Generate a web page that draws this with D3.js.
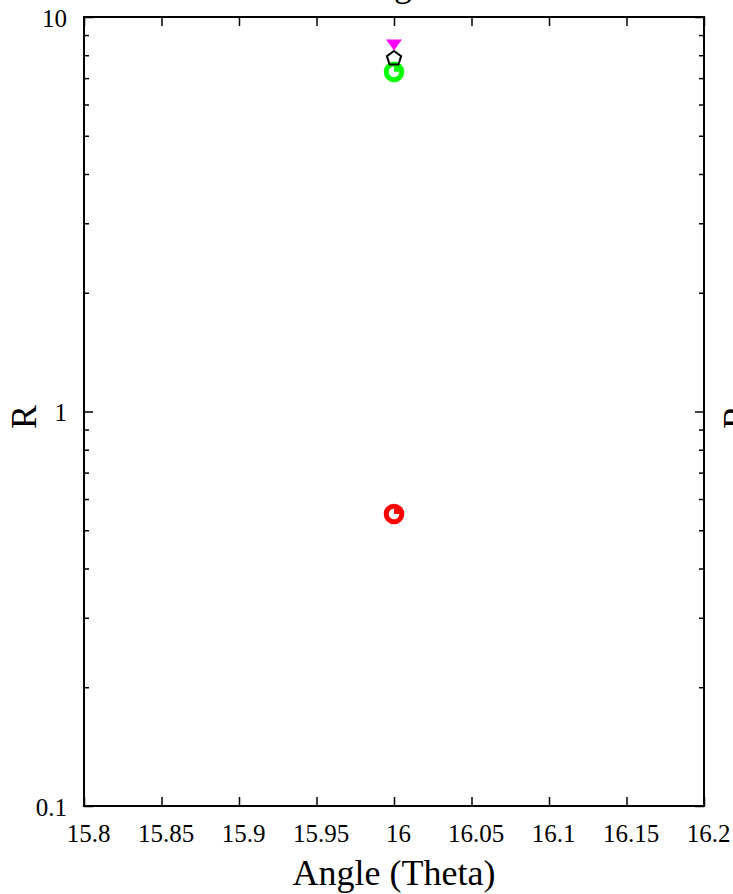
<!DOCTYPE html>
<html>
<head>
<meta charset="utf-8">
<script src="https://cdn.jsdelivr.net/npm/d3@7"></script>
<style>
    body { margin: 0; background: #fff; }
    svg { display: block; font-family: "Liberation Serif", "DejaVu Serif", serif; }
    .axis path { display: none; }
    .axis line { stroke: #000; stroke-width: 1.5; }
    .axis text { font-family: "Liberation Serif", serif; font-size: 25px; fill: #000; }
</style>
</head>
<body>
<div id="chart"></div>
<script>
// x range and ticks
const xDomain = [15.8, 16.2];
const xTicks = [15.8, 15.85, 15.9, 15.95, 16, 16.05, 16.1, 16.15, 16.2];
const yDomain = [0.1, 10];
const yTicks = [0.1, 1, 10];
const yMinorTicks = [0.2, 0.3, 0.4, 0.5, 0.6, 0.7, 0.8, 0.9, 2, 3, 4, 5, 6, 7, 8, 9];

// one point per series, all at theta = 16
const seriesNames = ["red", "green", "black", "magenta"];
const seriesTheta = [16, 16, 16, 16];
const seriesR = [0.55, 7.26, 7.85, 8.49];
const seriesColors = ["#ff0000", "#00ff00", "#000000", "#ff00ff"];
const seriesShapes = ["ring", "ring", "pentagon", "triangleDown"];

const width = 733, height = 894;
const margin = { left: 84, right: 29, top: 17, bottom: 88 };
const plotW = width - margin.left - margin.right;
const plotH = height - margin.top - margin.bottom;

const svg = d3.select("#chart").append("svg")
    .attr("width", width)
    .attr("height", height);

const x = d3.scaleLinear().domain(xDomain).range([0, plotW]);
const y = d3.scaleLog().domain(yDomain).range([plotH, 0]);

// title (mostly cut off above the top edge)
svg.append("text")
    .attr("x", margin.left + plotW / 2)
    .attr("y", -4)
    .attr("text-anchor", "middle")
    .style("font-size", "36px")
    .text("Angle");

const g = svg.append("g")
    .attr("transform", `translate(${margin.left},${margin.top})`);

// bottom axis with labels, ticks pointing inward
g.append("g")
    .attr("class", "axis")
    .attr("transform", `translate(0,${plotH})`)
    .call(d3.axisBottom(x)
        .tickValues(xTicks)
        .tickSize(-9)
        .tickPadding(0)
        .tickFormat(d3.format("")))
    .selectAll("text")
    .attr("dx", 4)
    .attr("dy", 0)
    .attr("y", 36);

// top mirror ticks
g.append("g")
    .attr("class", "axis")
    .call(d3.axisTop(x).tickValues(xTicks).tickSize(-9).tickFormat(""));

// left axis
g.append("g")
    .attr("class", "axis")
    .call(d3.axisLeft(y)
        .tickValues(yTicks)
        .tickSize(-9)
        .tickPadding(17)
        .tickFormat(d3.format("")))
    .selectAll("text")
    .attr("dy", 9);

g.append("g")
    .attr("class", "axis")
    .call(d3.axisLeft(y).tickValues(yMinorTicks).tickSize(-5).tickFormat(""));

// right mirror ticks
const right = g.append("g")
    .attr("transform", `translate(${plotW},0)`);
right.append("g")
    .attr("class", "axis")
    .call(d3.axisRight(y).tickValues(yTicks).tickSize(-9).tickFormat(""));
right.append("g")
    .attr("class", "axis")
    .call(d3.axisRight(y).tickValues(yMinorTicks).tickSize(-5).tickFormat(""));

// border
g.append("rect")
    .attr("width", plotW)
    .attr("height", plotH)
    .attr("fill", "none")
    .attr("stroke", "#000")
    .attr("stroke-width", 2);

// points
const points = seriesNames.map((name, i) => ({
    name, theta: seriesTheta[i], r: seriesR[i], color: seriesColors[i], shape: seriesShapes[i]
}));

const pentagon = d3.range(5).map(k => {
    const a = -Math.PI / 2 + k * 2 * Math.PI / 5;
    return [7.5 * Math.cos(a), 7.5 * Math.sin(a)];
});

const marks = g.append("g").selectAll("g")
    .data(points)
    .join("g")
    .attr("transform", d => `translate(${x(d.theta)},${y(d.r)})`);

marks.filter(d => d.shape === "ring").each(function (d) {
    const m = d3.select(this);
    m.append("circle")
        .attr("r", 7.8)
        .attr("fill", "none")
        .attr("stroke", d.color)
        .attr("stroke-width", 5);
    // little wedge left inside the ring
    m.append("path")
        .attr("d", d3.arc().innerRadius(0).outerRadius(5.5).startAngle(0).endAngle(Math.PI / 2)())
        .attr("fill", d.color);
});

marks.filter(d => d.shape === "pentagon")
    .append("polygon")
    .attr("points", pentagon.map(p => p.join(",")).join(" "))
    .attr("fill", "none")
    .attr("stroke", d => d.color)
    .attr("stroke-width", 2);

marks.filter(d => d.shape === "triangleDown")
    .append("path")
    .attr("d", "M-8,-5.5L8,-5.5L0,5.5Z")
    .attr("fill", d => d.color);

// axis titles
svg.append("text")
    .attr("x", margin.left + plotW / 2)
    .attr("y", 885)
    .attr("text-anchor", "middle")
    .style("font-size", "36px")
    .text("Angle (Theta)");

svg.append("text")
    .attr("transform", "translate(36,417) rotate(-90)")
    .attr("text-anchor", "middle")
    .style("font-size", "36px")
    .text("R");

// y title of the neighbouring panel, cut by the right edge
svg.append("text")
    .attr("transform", "translate(748,417) rotate(-90)")
    .attr("text-anchor", "middle")
    .style("font-size", "36px")
    .text("R");
</script>
</body>
</html>
